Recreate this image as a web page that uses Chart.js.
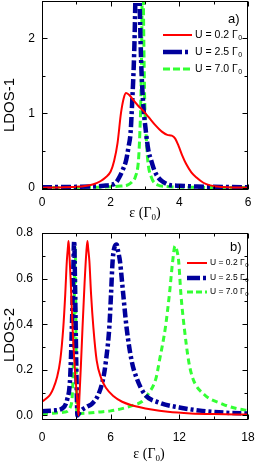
<!DOCTYPE html>
<html><head><meta charset="utf-8">
<script src="https://cdn.jsdelivr.net/npm/chart.js@4/dist/chart.umd.min.js"></script>
<style>
html,body{margin:0;padding:0;background:#fff;width:257px;height:462px;overflow:hidden}
.p{position:absolute;left:0}
</style></head>
<body>
<div class="p" style="top:0"><canvas id="c1" width="257" height="226"></canvas></div>
<div class="p" style="top:226px"><canvas id="c2" width="257" height="236"></canvas></div>
<script>
// ---------- Panel a) LDOS-1 ----------
const A_RED_X  = [0,0.5,1.0,1.3,1.5,1.7,1.85,2.0,2.1,2.2,2.3,2.38,2.45,2.55,2.65,2.8,2.95,3.1,3.3,3.5,3.65,3.78,3.88,3.98,4.08,4.2,4.35,4.5,4.7,4.9,5.1,5.4,6.0];
const A_RED_Y  = [0.004,0.008,0.015,0.03,0.05,0.09,0.14,0.22,0.36,0.6,1.0,1.2,1.27,1.24,1.18,1.1,1.03,0.95,0.84,0.75,0.71,0.70,0.66,0.56,0.44,0.32,0.21,0.14,0.07,0.035,0.02,0.01,0.004];
const A_BLUE_X = [0,0.5,1,1.5,1.8,2.0,2.15,2.26,2.35,2.45,2.52,2.58,2.63,2.67,2.70,2.73,2.76,2.80,2.84,2.88,2.94,3.03,3.10,3.18,3.27,3.37,3.5,3.71,4.0,4.5,5,5.5,6];
const A_BLUE_Y = [0.01,0.012,0.015,0.02,0.03,0.04,0.07,0.15,0.24,0.37,0.55,0.74,1.18,1.6,2.07,2.8,3.5,3.5,2.6,1.8,1.18,0.74,0.5,0.37,0.24,0.15,0.09,0.04,0.03,0.02,0.015,0.012,0.01];
const A_GREEN_X= [0,0.5,1,1.5,2.0,2.3,2.5,2.62,2.72,2.81,2.85,2.88,2.91,2.93,2.96,2.99,3.03,3.08,3.18,3.37,3.6,4.0,4.5,5,6];
const A_GREEN_Y= [0.005,0.006,0.008,0.01,0.015,0.025,0.04,0.08,0.15,0.37,0.74,1.2,2.2,3.5,2.2,1.2,0.74,0.37,0.15,0.04,0.02,0.012,0.008,0.006,0.005];
const A_X_MAJOR = [0,2,4,6], A_X_MINOR = [1,3,5];
const A_Y_MAJOR = [0,1,2],   A_Y_MINOR = [0.5,1.5];
const A_Y_LABELS = ['0','1','2'];
const A_X_LABELS = ['0','2','4','6'];

// ---------- Panel b) LDOS-2 ----------
const B_RED_X  = [0,0.4,0.72,1.0,1.3,1.59,1.86,2.03,2.17,2.27,2.32,2.38,2.5,2.67,2.85,3.04,3.19,3.28,3.4,3.54,3.72,3.88,3.97,4.04,4.14,4.29,4.49,4.78,5.16,5.6,6.23,7.0,7.83,9.57,11,13,15,18];
const B_RED_Y  = [0.06,0.075,0.092,0.12,0.165,0.24,0.385,0.53,0.677,0.74,0.765,0.72,0.6,0.385,0.22,0.092,0.0,0.092,0.22,0.385,0.58,0.72,0.765,0.73,0.677,0.53,0.385,0.24,0.165,0.12,0.085,0.06,0.045,0.026,0.016,0.009,0.006,0.004];
const B_BLUE_X = [0,1,1.74,2.2,2.46,2.61,2.72,2.81,2.9,2.99,3.1,3.3,3.5,4.0,4.35,4.93,5.36,5.59,5.88,6.03,6.17,6.35,6.52,6.65,6.81,7.1,7.39,7.83,8.26,8.99,10.26,12,14,16,18];
const B_BLUE_Y = [0.018,0.022,0.03,0.07,0.165,0.385,0.6,0.765,0.53,0.24,0.0,0.015,0.025,0.04,0.05,0.092,0.165,0.24,0.385,0.53,0.677,0.74,0.75,0.72,0.677,0.53,0.385,0.24,0.165,0.092,0.056,0.035,0.02,0.012,0.008];
const B_GREEN_X= [0,1,2,2.5,2.7,2.8,2.9,2.97,3.04,3.2,4,5,6,7,8,8.7,9.25,9.97,10.26,10.78,11.13,11.42,11.62,11.8,11.94,12.14,12.43,12.81,13.16,14.17,15.77,17,18];
const B_GREEN_Y= [0.008,0.01,0.015,0.04,0.15,0.4,0.735,0.35,0.0,0.005,0.01,0.015,0.02,0.03,0.045,0.06,0.092,0.165,0.24,0.385,0.53,0.677,0.743,0.72,0.677,0.53,0.385,0.24,0.165,0.092,0.05,0.03,0.022];
const B_X_MAJOR = [0,6,12,18], B_X_MINOR = [3,9,15];
const B_Y_MAJOR = [0,0.2,0.4,0.6,0.8], B_Y_MINOR = [0.1,0.3,0.5,0.7];
const B_Y_LABELS = ['0.0','0.2','0.4','0.6','0.8'];
const B_X_LABELS = ['0','6','12','18'];

const SERIES_LABELS = ['U = 0.2 Γ','U = 2.5 Γ','U = 7.0 Γ'];
const SUB = '0';
const RED = '#ff0000', BLUE = '#00009c', GREEN = '#33ff33';

function pts(xs, ys){ return xs.map((x,i)=>({x:x, y:ys[i]})); }

function makePlugin(o){
  return {
    id: 'deco',
    afterDraw(chart){
      const ctx = chart.ctx, a = chart.chartArea;
      const xs = chart.scales.x, ys = chart.scales.y;
      const L = Math.round(a.left)+0.5, R = Math.round(a.right)-0.5, T = Math.round(a.top)+0.5, B = Math.round(a.bottom)-0.5;
      ctx.save();
      ctx.strokeStyle = '#000'; ctx.lineWidth = 1; ctx.setLineDash([]);
      ctx.strokeRect(L, T, R-L, B-T);
      ctx.beginPath();
      const tx = (v, len) => { const p = Math.round(xs.getPixelForValue(v))+0.5; ctx.moveTo(p,B); ctx.lineTo(p,B-len); ctx.moveTo(p,T); ctx.lineTo(p,T+len); };
      const ty = (v, len) => { const p = Math.round(ys.getPixelForValue(v))+0.5; ctx.moveTo(L,p); ctx.lineTo(L+len,p); ctx.moveTo(R,p); ctx.lineTo(R-len,p); };
      o.xMajor.forEach(v=>tx(v,5)); o.xMinor.forEach(v=>tx(v,3));
      o.yMajor.forEach(v=>ty(v,5)); o.yMinor.forEach(v=>ty(v,3));
      ctx.stroke();

      // axis titles
      ctx.fillStyle = '#000';
      ctx.font = '15px "Liberation Sans", Arial, sans-serif';
      ctx.textAlign = 'center'; ctx.textBaseline = 'middle';
      ctx.save(); ctx.translate(o.yTitleX, o.yTitleY); ctx.rotate(-Math.PI/2); ctx.fillText(o.yTitle, 0, 0); ctx.restore();

      // x title: ε (Γ0)
      ctx.textAlign = 'left'; ctx.textBaseline = 'alphabetic';
      const mainF = '14px "Liberation Serif", "Times New Roman", serif', subF = '9px "Liberation Serif", serif';
      ctx.font = mainF; const w1 = ctx.measureText('ε (Γ').width; const w3 = ctx.measureText(')').width;
      ctx.font = subF; const w2 = ctx.measureText('0').width;
      let x0 = o.xTitleX - (w1+w2+w3)/2; const by = o.xTitleY + 5;
      ctx.font = mainF; ctx.fillText('ε (Γ', x0, by);
      ctx.font = subF; ctx.fillText('0', x0+w1, by+3);
      ctx.font = mainF; ctx.fillText(')', x0+w1+w2, by);

      // panel label
      ctx.font = '13px "Liberation Sans", Arial, sans-serif';
      ctx.textBaseline = 'middle';
      ctx.fillText(o.panel, o.panelX, o.panelY);

      // legend
      const ds = chart.data.datasets;
      ds.forEach((d, i) => {
        const y = o.legY[i];
        ctx.save();
        ctx.strokeStyle = d.borderColor; ctx.lineWidth = o.legW[i];
        ctx.setLineDash(o.legDash[i]);
        ctx.beginPath(); ctx.moveTo(o.legX0, y); ctx.lineTo(o.legX1, y); ctx.stroke();
        ctx.restore();
        ctx.fillStyle = '#000';
        ctx.font = o.legFont + 'px "Liberation Sans", Arial, sans-serif';
        ctx.textBaseline = 'middle';
        ctx.fillText(d.label, o.legTX, y);
        const tw = ctx.measureText(d.label).width;
        ctx.font = Math.round(o.legFont*0.65) + 'px "Liberation Sans", Arial, sans-serif';
        ctx.fillText(SUB, o.legTX + tw + 0.5, y + o.legFont*0.3);
      });
      ctx.restore();
    }
  };
}

function makeChart(id, cfg){
  const tickFont = {family: '"Liberation Sans", Arial, sans-serif', size: 12};
  return new Chart(document.getElementById(id), {
    type: 'line',
    data: { datasets: [
      {label: SERIES_LABELS[0], data: pts(cfg.rx, cfg.ry), borderColor: RED, borderWidth: cfg.w[0], borderDash: [], cubicInterpolationMode: 'monotone', pointRadius: 0, fill: false, clip: 0},
      {label: SERIES_LABELS[1], data: pts(cfg.bx, cfg.by), borderColor: BLUE, borderWidth: cfg.w[1], borderDash: cfg.blueDash, cubicInterpolationMode: 'monotone', pointRadius: 0, fill: false, clip: 0},
      {label: SERIES_LABELS[2], data: pts(cfg.gx, cfg.gy), borderColor: GREEN, borderWidth: cfg.w[2], borderDash: cfg.greenDash, cubicInterpolationMode: 'monotone', pointRadius: 0, fill: false, clip: 0}
    ]},
    options: {
      responsive: false, animation: false, devicePixelRatio: 1,
      layout: {padding: {top: cfg.padTop, right: 9, left: 0, bottom: 0}},
      plugins: {legend: {display: false}, tooltip: {enabled: false}},
      scales: {
        x: {
          type: 'linear', min: cfg.xMin, max: cfg.xMax,
          grid: {display: false, drawTicks: false}, border: {display: false},
          afterBuildTicks: s => { s.ticks = cfg.xMajor.map(v=>({value:v})); },
          afterFit: s => { s.height = cfg.xH; s.paddingLeft = 0; s.paddingRight = 0; },
          ticks: {font: tickFont, color: '#000', padding: cfg.xPad, maxRotation: 0, autoSkip: false,
                  callback: (v, i) => cfg.xLabels[i]}
        },
        y: {
          type: 'linear', min: cfg.yMin, max: cfg.yMax,
          grid: {display: false, drawTicks: false}, border: {display: false},
          afterBuildTicks: s => { s.ticks = cfg.yMajor.map(v=>({value:v})); },
          afterFit: s => { s.width = 42; s.paddingTop = 0; s.paddingBottom = 0; },
          ticks: {font: tickFont, color: '#000', padding: cfg.yPad, autoSkip: false,
                  callback: (v, i) => cfg.yLabels[i]}
        }
      }
    },
    plugins: [makePlugin(cfg.deco)]
  });
}

makeChart('c1', {
  rx: A_RED_X, ry: A_RED_Y, bx: A_BLUE_X, by: A_BLUE_Y, gx: A_GREEN_X, gy: A_GREEN_Y,
  w: [2, 4.5, 3], blueDash: [10,3,3,3], greenDash: [7,3.5],
  xMin: 0, xMax: 6, yMin: -0.027, yMax: 2.5, padTop: 1, xH: 36, xPad: 5, yPad: 7,
  xMajor: A_X_MAJOR, yMajor: A_Y_MAJOR, xLabels: A_X_LABELS, yLabels: A_Y_LABELS,
  deco: {xMajor: A_X_MAJOR, xMinor: A_X_MINOR, yMajor: A_Y_MAJOR, yMinor: A_Y_MINOR,
         yTitle: 'LDOS-1', yTitleX: 10, yTitleY: 105, xTitleX: 145, xTitleY: 212,
         panel: 'a)', panelX: 228, panelY: 19,
         legY: [35, 52, 69], legX0: 163, legX1: 192, legTX: 195, legFont: 10.5,
         legW: [2, 4.5, 3], legDash: [[], [19,3,3,10], [7,3]]}
});

makeChart('c2', {
  rx: B_RED_X, ry: B_RED_Y, bx: B_BLUE_X, by: B_BLUE_Y, gx: B_GREEN_X, gy: B_GREEN_Y,
  w: [2, 4.5, 3], blueDash: [9,3,3,3], greenDash: [6,4],
  xMin: 0, xMax: 18, yMin: -0.02, yMax: 0.8, padTop: 7, xH: 42, xPad: 10, yPad: 9,
  xMajor: B_X_MAJOR, yMajor: B_Y_MAJOR, xLabels: B_X_LABELS, yLabels: B_Y_LABELS,
  deco: {xMajor: B_X_MAJOR, xMinor: B_X_MINOR, yMajor: B_Y_MAJOR, yMinor: B_Y_MINOR,
         yTitle: 'LDOS-2', yTitleX: 10, yTitleY: 109, xTitleX: 149, xTitleY: 227,
         panel: 'b)', panelX: 230, panelY: 21,
         legY: [37, 52, 66], legX0: 187, legX1: 207, legTX: 210, legFont: 8.5,
         legW: [2, 4.5, 3], legDash: [[], [13,3,3,10], [6,3]]}
});
</script>
</body></html>
